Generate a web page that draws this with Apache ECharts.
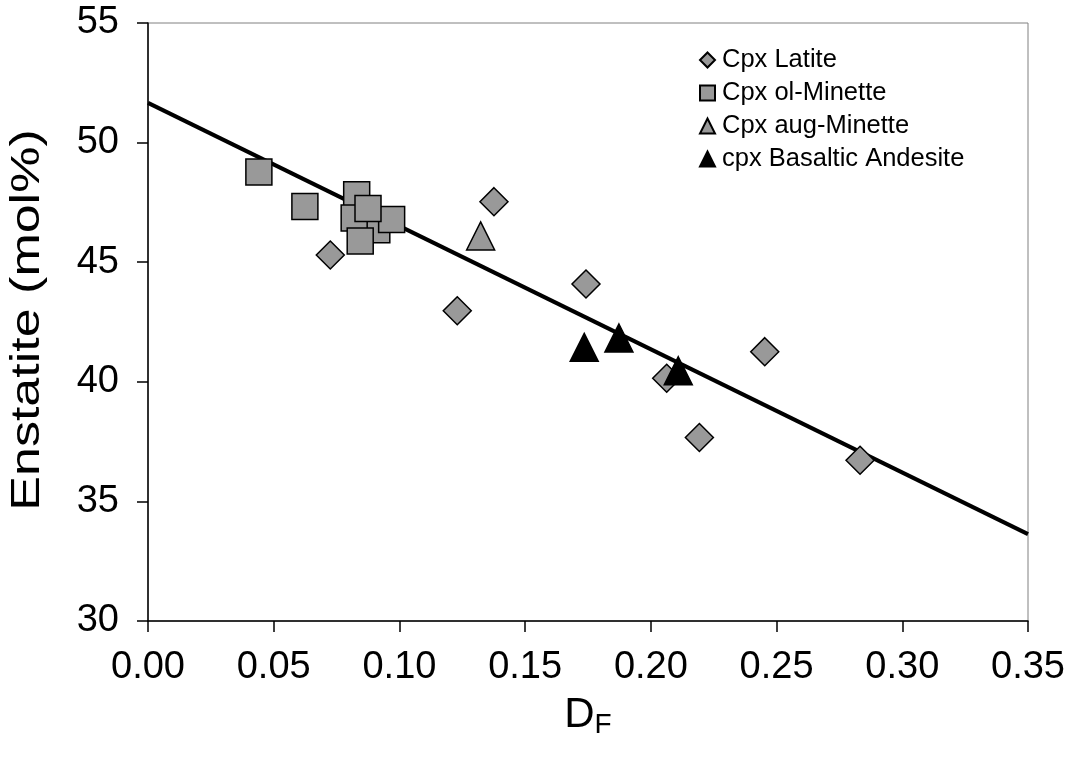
<!DOCTYPE html>
<html>
<head>
<meta charset="utf-8">
<script src="https://cdn.jsdelivr.net/npm/echarts@6/dist/echarts.min.js"></script>
<style>
  html, body { margin: 0; padding: 0; background: #fff; }
  #chart { width: 1073px; height: 757px; }
</style>
</head>
<body>
<div id="chart"></div>
<script>
// Clinopyroxene enstatite content vs. D_F
var latite = [
  [0.0725, 45.30], [0.1376, 47.53], [0.1742, 44.09], [0.1230, 42.97],
  [0.2063, 40.15], [0.2453, 41.26], [0.2193, 37.67], [0.2832, 36.72]
];
var olMinette = [
  [0.0441, 48.77], [0.0624, 47.33], [0.0830, 47.82], [0.0910, 46.36],
  [0.0969, 46.78], [0.0820, 46.85], [0.0875, 47.25], [0.0844, 45.89]
];
var augMinette = [
  [0.1323, 46.10]
];
var basalticAndesite = [
  [0.1735, 41.44], [0.1873, 41.83], [0.2109, 40.46]
];
// Linear fit drawn across the full x range
var fitLine = [[0, 51.66], [0.35, 33.63]];

var xTicks = { min: 0, max: 0.35, interval: 0.05 };
var yTicks = { min: 30, max: 55, interval: 5 };

var FONT = 'Liberation Sans, Arial, sans-serif';
var GRID = { left: 148, right: 45, top: 23, bottom: 136 };
var chart = echarts.init(document.getElementById('chart'));

var markerStyle = function (fill) {
  return { color: fill, borderColor: '#000', borderWidth: 1.5, opacity: 1 };
};

chart.setOption({
  animation: false,
  backgroundColor: '#ffffff',
  grid: {
    left: GRID.left, right: GRID.right, top: GRID.top, bottom: GRID.bottom,
    containLabel: false, outerBoundsMode: 'none',
    show: true, borderColor: '#808080', borderWidth: 1
  },
  legend: {
    orient: 'vertical',
    left: 694, top: 42,
    itemWidth: 15, itemHeight: 15, itemGap: 7,
    data: ['Cpx Latite', 'Cpx ol-Minette', 'Cpx aug-Minette', 'cpx Basaltic Andesite'],
    textStyle: { fontFamily: FONT, fontSize: 25.5, color: '#000', padding: [0, 0, 0, 2] }
  },
  xAxis: {
    type: 'value',
    min: xTicks.min, max: xTicks.max, interval: xTicks.interval,
    name: '{a|D}{b|F}',
    nameLocation: 'middle',
    nameGap: 70,
    nameTextStyle: {
      rich: {
        a: { fontFamily: FONT, fontSize: 42, color: '#000' },
        b: { fontFamily: FONT, fontSize: 28, color: '#000', padding: [20, 0, 0, 0] }
      }
    },
    axisLine: { lineStyle: { color: '#000', width: 1.5 } },
    axisTick: { inside: false, length: 11, lineStyle: { color: '#000', width: 1.5 } },
    axisLabel: {
      fontFamily: FONT, fontSize: 38, color: '#000', margin: 28,
      formatter: function (v) { return v.toFixed(2); }
    },
    splitLine: { show: false }
  },
  yAxis: {
    type: 'value',
    min: yTicks.min, max: yTicks.max, interval: yTicks.interval,
    axisLine: { lineStyle: { color: '#000', width: 1.5 } },
    axisTick: { inside: false, length: 11, lineStyle: { color: '#000', width: 1.5 } },
    axisLabel: { fontFamily: FONT, fontSize: 38, color: '#000', margin: 29 },
    splitLine: { show: false }
  },
  graphic: [
    {
      // y-axis title, rotated and stretched along its length
      type: 'text',
      x: 28, y: 320,
      rotation: Math.PI / 2,
      scaleX: 1.3, scaleY: 1,
      style: {
        text: 'Enstatite (mol%)',
        fontFamily: FONT, fontSize: 40, fill: '#000',
        align: 'center', verticalAlign: 'middle'
      }
    }
  ],
  series: [
    {
      name: 'fit', type: 'line', data: fitLine, showSymbol: false, symbol: 'none',
      lineStyle: { color: '#000', width: 4 }, z: 1, silent: true
    },
    {
      name: 'Cpx Latite', type: 'scatter', data: latite,
      symbol: 'diamond', symbolSize: 28,
      itemStyle: markerStyle('#999999'), z: 3
    },
    {
      name: 'Cpx ol-Minette', type: 'scatter', data: olMinette,
      symbol: 'rect', symbolSize: 26,
      itemStyle: markerStyle('#999999'), z: 3
    },
    {
      name: 'Cpx aug-Minette', type: 'scatter', data: augMinette,
      symbol: 'triangle', symbolSize: 28,
      itemStyle: markerStyle('#999999'), z: 3
    },
    {
      name: 'cpx Basaltic Andesite', type: 'scatter', data: basalticAndesite,
      symbol: 'triangle', symbolSize: 28,
      itemStyle: markerStyle('#000000'), z: 4
    }
  ]
});
</script>
</body>
</html>
